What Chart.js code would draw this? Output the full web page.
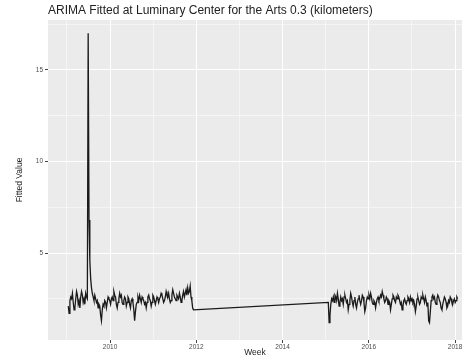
<!DOCTYPE html>
<html>
<head>
<meta charset="utf-8">
<script src="https://cdn.jsdelivr.net/npm/chart.js@4"></script>
<style>
  html, body { margin: 0; padding: 0; background: #ffffff; }
  #wrap { width: 462px; height: 361px; position: relative; }
</style>
</head>
<body>
<div id="wrap"><canvas id="arima-chart" width="462" height="361"></canvas></div>
<script>
// タイトル
const chartTitle = 'ARIMA Fitted at Luminary Center for the Arts 0.3 (kilometers)';
// 軸タイトル
const xTitle = 'Week';
const yTitle = 'Fitted Value';

// 区間1 開始週(年の小数)
const seg1Start = 2009.03;
// 区間1 週ごとの値
const seg1Values = [
  2.1,1.7,2.4,2.6,2.5,2.8,2.3,1.9,2.0,2.5,2.9,2.7,2.2,2.4,2.0,2.6,2.9,2.7,2.3,2.5,2.2,2.8,2.6,2.5,
  17.0,6.8,4.6,3.6,3.1,2.8,
  2.6,2.4,2.7,2.5,2.3,2.4,2.0,2.2,2.1,1.6,1.3,1.9,2.2,2.1,2.4,2.3,2.0,2.3,2.6,2.5,
  2.4,2.2,2.5,2.6,2.4,2.9,2.7,2.6,2.2,2.0,2.3,2.5,2.8,2.6,2.7,2.3,2.2,2.4,2.6,2.5,
  2.1,2.3,2.6,2.5,2.2,2.0,2.4,2.5,2.3,1.9,1.3,1.8,2.2,2.3,2.6,2.4,2.7,2.5,2.3,2.6,
  2.5,2.4,2.2,2.3,2.0,2.3,2.6,2.7,2.5,2.4,2.1,2.3,2.7,2.6,2.4,2.2,2.4,2.6,2.5,2.3,
  2.5,2.6,2.8,2.7,2.5,2.3,2.4,2.6,2.9,2.7,2.6,2.8,2.5,2.3,2.4,2.7,3.0,2.8,2.6,2.5,
  2.4,2.7,2.6,2.5,2.8,2.6,2.3,2.4,2.7,2.9,2.6,2.8,3.0,2.7,3.1,2.8,
  2.9,3.2,2.6,2.4,2.0,1.9
];

// 区間2 開始週(年の小数)
const seg2Start = 2015.06;
// 区間2 週ごとの値
const seg2Values = [
  2.3,1.2,1.6,2.2,2.5,2.4,2.6,2.3,2.7,2.6,2.4,2.8,2.5,2.1,2.3,2.6,2.4,2.5,2.2,2.6,
  2.7,2.5,2.3,2.4,1.9,2.2,2.4,2.8,2.6,2.3,2.1,2.4,2.6,2.2,2.0,2.3,2.5,2.7,2.4,2.2,
  2.4,2.7,2.6,2.3,1.8,2.0,2.4,2.6,2.5,2.7,2.5,2.8,2.6,2.3,2.2,2.4,2.3,2.0,2.3,2.5,
  2.6,2.4,2.5,2.7,2.6,2.9,2.7,2.5,2.3,2.4,2.6,2.5,2.2,2.4,2.3,1.9,2.2,2.5,2.7,2.6,
  2.4,2.3,2.6,2.5,2.7,2.6,2.4,2.2,2.3,1.9,2.1,2.4,2.5,2.3,2.2,2.4,2.6,2.5,2.3,2.6,
  2.4,2.5,2.3,2.4,2.2,1.8,2.1,2.5,2.6,2.4,2.2,2.3,2.6,2.5,2.7,2.5,2.3,2.6,2.4,2.1,
  2.3,1.3,1.2,1.8,2.4,2.6,2.7,2.5,2.6,2.3,2.2,2.5,2.7,2.6,2.4,2.3,2.0,1.9,2.2,2.4,
  2.6,2.5,2.3,2.0,2.1,2.4,2.3,2.6,2.5,2.3,2.2,2.4,2.5,2.3,2.4,2.6,2.5
];

// x軸目盛り(ラベル表示する年)
const xTickLabels = [2010, 2012, 2014, 2016, 2018];
// y軸目盛り(ラベル表示する値)
const yTickLabels = [5, 10, 15];

/*
  点データ作成(週 → 年の小数)
*/
function buildPoints(start, values) {
  let list = [];
  for (let i = 0; i < values.length; i++) {
    list.push({ x: start + i / 52, y: values[i] });
  }
  return list;
}

let points = buildPoints(seg1Start, seg1Values).concat(buildPoints(seg2Start, seg2Values));

// パネル背景とタイトル
const panelPlugin = {
  id: 'panel',
  beforeDraw(chart) {
    const ctx = chart.ctx;
    const a = chart.chartArea;
    ctx.save();
    ctx.fillStyle = '#EBEBEB';
    ctx.fillRect(a.left, a.top, a.right - a.left, a.bottom - a.top);
    ctx.fillStyle = '#222222';
    ctx.font = '12px "Liberation Sans", Arial, sans-serif';
    ctx.textBaseline = 'middle';
    ctx.textAlign = 'left';
    ctx.fillText(chartTitle, a.left, 11);
    ctx.restore();
  }
};

new Chart(document.getElementById('arima-chart'), {
  type: 'line',
  data: {
    datasets: [{
      data: points,
      borderColor: '#1a1a1a',
      borderWidth: 1.3,
      pointRadius: 0,
      tension: 0
    }]
  },
  options: {
    responsive: false,
    animation: false,
    layout: { padding: { top: 20, right: 0, bottom: 0, left: 0 } },
    plugins: {
      legend: { display: false },
      tooltip: { enabled: false },
      title: { display: false }
    },
    scales: {
      x: {
        type: 'linear',
        min: 2008.56,
        max: 2018.16,
        border: { display: false },
        grid: {
          color: '#FFFFFF',
          lineWidth: c => (xTickLabels.includes(c.tick.value) ? 1 : 0.5),
          tickColor: c => (xTickLabels.includes(c.tick.value) ? '#444444' : 'rgba(0,0,0,0)'),
          tickLength: 3
        },
        ticks: {
          stepSize: 1,
          includeBounds: false,
          autoSkip: false,
          maxRotation: 0,
          padding: 0,
          color: '#4D4D4D',
          font: { size: 6.5, family: '"Liberation Sans", Arial, sans-serif' },
          callback: v => (xTickLabels.includes(v) ? String(v) : '')
        },
        title: {
          display: true,
          text: xTitle,
          color: '#222222',
          font: { size: 8.5, family: '"Liberation Sans", Arial, sans-serif' },
          padding: { top: 0, bottom: 3 }
        },
        afterFit: s => { s.height = 21; s.paddingLeft = 0; s.paddingRight = 0; }
      },
      y: {
        type: 'linear',
        min: 0.25,
        max: 17.73,
        border: { display: false },
        grid: {
          color: '#FFFFFF',
          lineWidth: c => (yTickLabels.includes(c.tick.value) ? 1 : 0.5),
          tickColor: c => (yTickLabels.includes(c.tick.value) ? '#444444' : 'rgba(0,0,0,0)'),
          tickLength: 3
        },
        ticks: {
          stepSize: 2.5,
          includeBounds: false,
          autoSkip: false,
          padding: 2,
          color: '#4D4D4D',
          font: { size: 6.5, family: '"Liberation Sans", Arial, sans-serif' },
          callback: v => (yTickLabels.includes(v) ? String(v) : '')
        },
        title: {
          display: true,
          text: yTitle,
          color: '#222222',
          font: { size: 8.5, family: '"Liberation Sans", Arial, sans-serif' },
          padding: { top: 15, bottom: 0 }
        },
        afterFit: s => { s.width = 48; s.paddingTop = 0; s.paddingBottom = 0; }
      }
    }
  },
  plugins: [panelPlugin]
});
</script>
</body>
</html>
